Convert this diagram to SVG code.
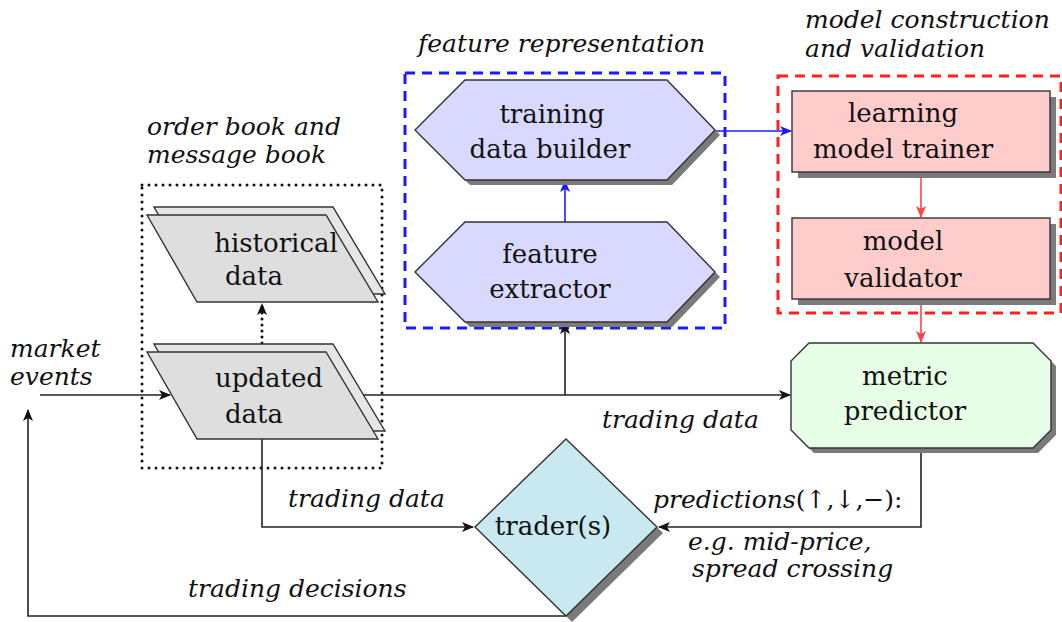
<svg xmlns="http://www.w3.org/2000/svg" width="1062" height="622" viewBox="0 0 1062 622">
<defs>
<style>
.lbl{font-family:'DejaVu Serif','Liberation Serif','Times New Roman',serif;font-style:italic;font-size:25px;fill:#111}
.nt{font-family:'DejaVu Serif','Liberation Serif','Times New Roman',serif;font-size:26px;fill:#111;text-anchor:middle}
.up{font-style:normal}
.edge{fill:none;stroke:#222;stroke-width:1.6}
.shadow{fill:#7a7a7a;stroke:none}
.hex{fill:#d9d9ff;stroke:#333;stroke-width:1.4}
.rbox{fill:#ffcccc;stroke:#333;stroke-width:1.4}
.para{fill:#dedede;stroke:#333;stroke-width:1.4}
.paraback{fill:#e6e6e6;stroke:#333;stroke-width:1.4}
</style>
<marker id="ah" viewBox="0 0 12 10" refX="11" refY="5" markerWidth="12" markerHeight="10" markerUnits="userSpaceOnUse" orient="auto"><path d="M0,0 L12,5 L0,10 L3,5 Z" fill="#111"/></marker>
<marker id="ahb" viewBox="0 0 12 10" refX="11" refY="5" markerWidth="12" markerHeight="10" markerUnits="userSpaceOnUse" orient="auto"><path d="M0,0 L12,5 L0,10 L3,5 Z" fill="#1a1aff"/></marker>
<marker id="ahr" viewBox="0 0 12 10" refX="11" refY="5" markerWidth="12" markerHeight="10" markerUnits="userSpaceOnUse" orient="auto"><path d="M0,0 L12,5 L0,10 L3,5 Z" fill="#ff4444"/></marker>
</defs>
<rect width="1062" height="622" fill="#fff"/>

<g id="groups">
<rect x="142" y="185" width="240" height="283" fill="none" stroke="#111" stroke-width="3" stroke-dasharray="0 7" stroke-linecap="round"/>
<rect x="405" y="73" width="320" height="255" fill="none" stroke="#1a1aff" stroke-width="3" stroke-dasharray="10 7"/>
<rect x="778" y="76" width="283" height="237" fill="none" stroke="#ff2020" stroke-width="3" stroke-dasharray="10 7"/>
<text class="lbl" x="147" y="135">order book and</text>
<text class="lbl" x="147" y="163">message book</text>
<text class="lbl" x="418" y="52">feature representation</text>
<text class="lbl" x="805" y="28">model construction</text>
<text class="lbl" x="805" y="57">and validation</text>
</g>

<g id="connectors">
<path class="edge" d="M40,395 H170" marker-end="url(#ah)"/>
<path d="M262,343 V304" fill="none" stroke="#111" stroke-width="3" stroke-dasharray="0 6" stroke-linecap="round"/>
<path d="M262,318 V304" fill="none" stroke="none" marker-end="url(#ah)"/>
<path class="edge" d="M353,395 H790" marker-end="url(#ah)"/>
<path class="edge" d="M565,395 V323" marker-end="url(#ah)"/>
<path d="M565,222 V181" fill="none" stroke="#1a1aff" stroke-width="1.6" marker-end="url(#ahb)"/>
<path d="M716,131 H791" fill="none" stroke="#1a1aff" stroke-width="1.6" marker-end="url(#ahb)"/>
<path d="M921,172 V217" fill="none" stroke="#ff4444" stroke-width="1.6" marker-end="url(#ahr)"/>
<path d="M921,299 V342" fill="none" stroke="#ff4444" stroke-width="1.6" marker-end="url(#ahr)"/>
<path class="edge" d="M262,439 V527 H473" marker-end="url(#ah)"/>
<path class="edge" d="M921,448 V527 H659" marker-end="url(#ah)"/>
<path class="edge" d="M566,616 H28 V410" marker-end="url(#ah)"/>
<text class="lbl" x="10" y="357">market</text>
<text class="lbl" x="10" y="385">events</text>
<text class="lbl" x="602" y="428">trading data</text>
<text class="lbl" x="288" y="507">trading data</text>
<text class="lbl" x="188" y="597">trading decisions</text>
<text class="lbl" x="653" y="508">predictions<tspan class="up">(↑,↓,−):</tspan></text>
<text class="lbl" x="688" y="550">e.g. mid-price,</text>
<text class="lbl" x="692" y="577">spread crossing</text>
</g>

<g id="historical-data">
<polygon class="paraback" points="154,207 333,207 385,294 204,294"/>
<polygon class="para" points="147,215 326,215 378,302 197,302"/>
<text class="nt" x="276" y="252">historical</text>
<text class="nt" x="254" y="285">data</text>
</g>

<g id="updated-data">
<polygon class="paraback" points="154,344 333,344 385,431 204,431"/>
<polygon class="para" points="147,352 326,352 378,439 197,439"/>
<text class="nt" x="269" y="387">updated</text>
<text class="nt" x="254" y="423">data</text>
</g>

<g id="training-data-builder">
<polygon class="shadow" points="420,135 470,85 672,85 720,135 672,185 470,185"/>
<polygon class="hex" points="415,130 465,80 667,80 715,130 667,180 465,180"/>
<text class="nt" x="552" y="123">training</text>
<text class="nt" x="550" y="158">data builder</text>
</g>

<g id="feature-extractor">
<polygon class="shadow" points="420,277 470,227 672,227 720,277 672,327 470,327"/>
<polygon class="hex" points="415,272 465,222 667,222 715,272 667,322 465,322"/>
<text class="nt" x="550" y="263">feature</text>
<text class="nt" x="550" y="298">extractor</text>
</g>

<g id="learning-model-trainer">
<rect class="shadow" x="798" y="97" width="258" height="81"/>
<rect class="rbox" x="792" y="91" width="258" height="81"/>
<text class="nt" x="903" y="122">learning</text>
<text class="nt" x="903" y="158">model trainer</text>
</g>

<g id="model-validator">
<rect class="shadow" x="798" y="224" width="258" height="81"/>
<rect class="rbox" x="792" y="218" width="258" height="81"/>
<text class="nt" x="903" y="250">model</text>
<text class="nt" x="903" y="287">validator</text>
</g>

<g id="metric-predictor">
<polygon class="shadow" points="814,348 1038,348 1056,366 1056,435 1038,453 814,453 796,435 796,366"/>
<polygon fill="#e6ffe6" stroke="#333" stroke-width="1.4" points="809,343 1033,343 1051,361 1051,430 1033,448 809,448 791,430 791,361"/>
<text class="nt" x="905" y="385">metric</text>
<text class="nt" x="905" y="420">predictor</text>
</g>

<g id="traders">
<polygon class="shadow" points="572,445 663,533 572,622 481,533"/>
<polygon fill="#c8e8f2" stroke="#333" stroke-width="1.4" points="566,439 657,527 566,616 475,527"/>
<text class="nt" x="553" y="535">trader(s)</text>
</g>
</svg>
